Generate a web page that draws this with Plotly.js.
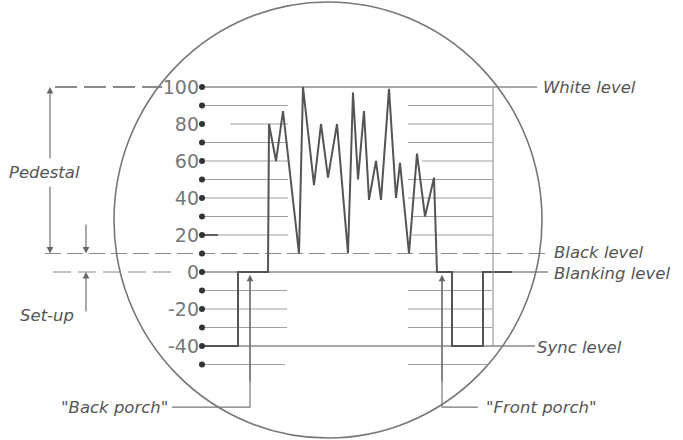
<!DOCTYPE html>
<html>
<head>
<meta charset="utf-8">
<script src="https://cdn.plot.ly/plotly-3.0.1.min.js"></script>
<style>html,body{margin:0;padding:0;background:#fff;}#chart{width:683px;height:440px;}</style>
</head>
<body>
<div id="chart"></div>
<script>
// ---- data ----
// signal levels (IRE units) marked by dots on the scale
const dotLevels = [100, 90, 80, 70, 60, 50, 40, 30, 20, 10, 0, -10, -20, -30, -40, -50];
const tickVals = [100, 80, 60, 40, 20, 0, -20, -40];
const tickText = ['100', '80', '60', '40', '20', '0', '-20', '-40'];
// composite video waveform (time in arbitrary units, level in IRE)
const waveT = [202, 238, 238, 268, 269, 276, 283, 299, 303, 314, 321, 328, 337, 348, 353, 358, 364, 369, 376, 381, 389, 396, 400, 409, 417, 425, 434, 437, 452, 452, 483, 483, 512];
const waveV = [-40, -40, 0, 0, 80, 60, 87, 10, 100, 47, 80, 51, 80, 10, 97, 50, 87, 39, 60, 39, 99, 40, 59, 10, 64, 30, 51, 0, 0, -40, -40, 0, 0];
// named reference levels
const whiteLevel = 100, blackLevel = 10, blankingLevel = 0, syncLevel = -40;
// short graticule lines
const gridLevels = [90, 80, 70, 60, 50, 40, 30, 20, -10, -20, -30, -50];

// ---- geometry / style (not data) ----
const Y0PX = 272, PXPER = 1.85;           // pixel of level 0, pixels per IRE
const v = px => (Y0PX - px) / PXPER;      // pixel row -> level
const scaleX = 202;
const gridLeft = {90: [202, 288], 80: [230, 288], 70: [202, 288], 60: [202, 288], 50: [202, 288], 40: [202, 288], 30: [202, 288], 20: [202, 288], '-10': [202, 287], '-20': [202, 287], '-30': [202, 287], '-50': [202, 285]};
const gridRight = {90: [408, 493], 80: [408, 493], 70: [408, 493], 60: [422, 493], 50: [408, 493], 40: [408, 493], 30: [412, 493], 20: [412, 493], '-10': [408, 492], '-20': [408, 492], '-30': [408, 492], '-50': [408, 488]};

const gx = [], gy = [];
gridLevels.forEach(l => {
  const a = gridLeft[l], b = gridRight[l];
  gx.push(a[0], a[1], null, b[0], b[1], null);
  gy.push(l, l, null, l, l, null);
});

const traces = [
  {x: gx, y: gy, mode: 'lines', line: {color: '#a0a0a0', width: 1.2}, hoverinfo: 'skip'},
  // long reference lines
  {x: [scaleX, 537, null, scaleX, 548, null, scaleX, 535],
   y: [whiteLevel, whiteLevel, null, blankingLevel, blankingLevel, null, syncLevel, syncLevel],
   mode: 'lines', line: {color: '#8a8a8a', width: 1.3}, hoverinfo: 'skip'},
  {x: [45, 546], y: [blackLevel, blackLevel], mode: 'lines', line: {color: '#8a8a8a', width: 1.2, dash: '16px,6px'}, hoverinfo: 'skip'},
  {x: [55, 162], y: [whiteLevel, whiteLevel], mode: 'lines', line: {color: '#666', width: 1.3, dash: '22px,7px'}, hoverinfo: 'skip'},
  {x: [53, 178], y: [blankingLevel, blankingLevel], mode: 'lines', line: {color: '#888', width: 1.2, dash: '18px,7px'}, hoverinfo: 'skip'},
  // short dark stub at the 20 mark
  {x: [scaleX, 218], y: [20, 20], mode: 'lines', line: {color: '#444', width: 1.6}, hoverinfo: 'skip'},
  // porch leaders
  {x: [172, 250, 250, null, 478, 442, 442], y: [-73, -73, -3, null, -73, -73, -3], mode: 'lines', line: {color: '#777', width: 1.2}, hoverinfo: 'skip'},
  // waveform
  {x: waveT, y: waveV, mode: 'lines', line: {color: '#555', width: 2}, hoverinfo: 'skip'},
  // scale dots
  {x: dotLevels.map(() => scaleX), y: dotLevels, mode: 'markers', marker: {color: '#333', size: 6}, hoverinfo: 'skip'}
];

const labelFont = {family: 'DejaVu Sans', size: 16.5, color: '#555', style: 'italic'};
const ann = (text, x, y, xanchor) => ({text, x, y, xref: 'x', yref: 'y', xanchor, yanchor: 'middle', showarrow: false, font: labelFont});
const arrow = (x, yFrom, yTo) => ({x, y: yTo, ax: x, ay: yFrom, xref: 'x', yref: 'y', axref: 'x', ayref: 'y', text: '', showarrow: true, arrowhead: 2, arrowsize: 1.2, arrowwidth: 1.1, arrowcolor: '#666'});

const annotations = [
  ann('White level', 541, whiteLevel, 'left'),
  ann('Black level', 552, v(252), 'left'),
  ann('Blanking level', 552, v(273), 'left'),
  ann('Sync level', 535, v(347), 'left'),
  ann('Pedestal', 44, v(172), 'center'),
  ann('Set-up', 47, v(315), 'center'),
  ann('"Back porch"', 170, v(407), 'right'),
  ann('"Front porch"', 484, v(407), 'left'),
  arrow(50, v(160), whiteLevel),
  arrow(50, v(185), blackLevel),
  arrow(86, v(223), blackLevel),
  arrow(86, v(313), blankingLevel),
  arrow(250, -60, -1.5),
  arrow(442, -60, -1.5)
];

const shapes = [
  {type: 'circle', xref: 'x', yref: 'y', x0: 114, x1: 542, y0: v(438), y1: v(2), line: {color: '#777', width: 1.6}},
  {type: 'line', xref: 'x', yref: 'y', x0: 493, x1: 493, y0: whiteLevel, y1: syncLevel, line: {color: '#9a9a9a', width: 1.2}}
];

const layout = {
  width: 683, height: 440,
  margin: {l: 0, r: 0, t: 0, b: 0},
  paper_bgcolor: '#fff', plot_bgcolor: '#fff',
  showlegend: false,
  xaxis: {range: [0, 683], visible: false, fixedrange: true},
  yaxis: {range: [v(440), v(0)], anchor: 'free', position: 199 / 683, side: 'left',
          showgrid: false, zeroline: false, showline: false, ticks: '',
          tickmode: 'array', tickvals: tickVals, ticktext: tickText,
          tickfont: {family: 'DejaVu Sans', size: 19, color: '#777'}, fixedrange: true},
  annotations, shapes
};

Plotly.newPlot('chart', traces, layout, {staticPlot: true, displayModeBar: false});
</script>
</body>
</html>
